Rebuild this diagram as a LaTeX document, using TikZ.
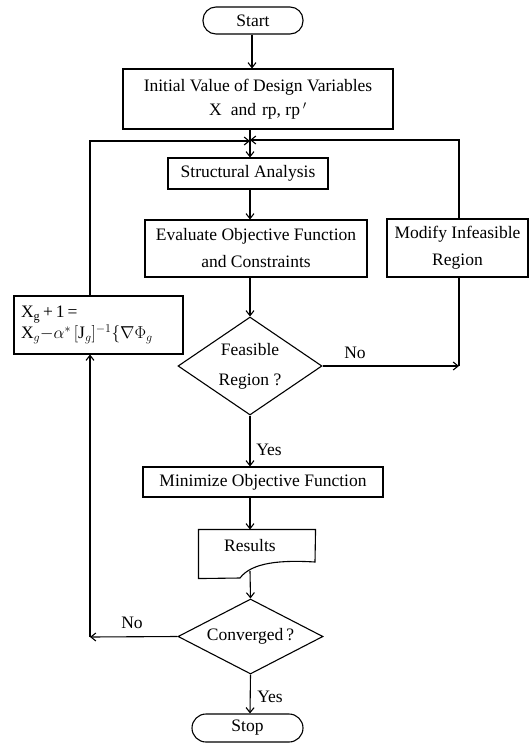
\documentclass[tikz,border=0pt]{standalone}
\usepackage{fontspec}
\setmainfont{Liberation Serif}
\usetikzlibrary{arrows.meta,shapes.geometric,calc}
\begin{document}
\begin{tikzpicture}[x=1pt,y=-1pt,
  every node/.style={font=\fontsize{17.5}{22}\selectfont},
  line width=1.1pt,
  box/.style={draw, line width=1.1pt, inner sep=0pt, align=center},
  dia/.style={draw, diamond, line width=1.1pt, inner sep=0pt},
  arr/.style={-{Straight Barb[length=5pt,width=8pt]}}
]
\useasboundingbox[fill=white] (0,0) rectangle (529,745);
\coordinate (sp) at (250,0);
\coordinate (sp2) at (252,0);

\node[box, minimum width=100pt, minimum height=27pt, rounded corners=13pt] (start) at (253,20.5) {Start};
\node[box, minimum width=270pt, minimum height=60pt, font=\fontsize{17.5}{24}\selectfont] (init) at (258,99) {Initial Value of Design Variables\\ X\hspace{9pt}and\hspace{6pt}rp, rp\,$'$};
\node[box, minimum width=160pt, minimum height=31pt] (sa) at (248,173.5) {Structural Analysis};
\node[box, minimum width=222pt, minimum height=57pt, font=\fontsize{17.5}{27}\selectfont] (eval) at (256,248.5) {Evaluate Objective Function\\ and Constraints};
\node[box, minimum width=141pt, minimum height=58pt, font=\fontsize{17.5}{27}\selectfont] (mod) at (457.5,248) {Modify Infeasible\\ Region};
\node[dia, minimum width=144pt, minimum height=98pt] (feas) at (250,366) {};
\node[align=center, font=\fontsize{17.5}{30}\selectfont] (feasl) at (feas.center) {Feasible\\ Region ?};
\node[box, inner xsep=7pt, text width=155pt, minimum height=58pt, align=left, font=\fontsize{17.5}{21}\selectfont] (xg) at (98.5,325) {X$_{\mathrm{g}}$\,+\,1\,=\\ X$_{g}{-}\alpha^{*}\,[\mathrm{J}_{g}]^{-1}\{\nabla\Phi_{g}$};
\node[box, minimum width=240pt, minimum height=30pt] (min) at (263,482) {Minimize Objective Function};
\node[minimum width=116pt, minimum height=48pt, inner sep=0pt] (res) at (257,554) {};
\draw (res.north west) -- (res.north east) -- (315,562) .. controls (282,560) and (252,562) .. (240,578) -- (res.south west) -- cycle;
\node (resl) at (250,546) {Results};
\node[dia, minimum width=145pt, minimum height=75pt] (conv) at (250.5,636.5) {};
\node (convl) at (conv.center) {Converged\,?};
\node[box, minimum width=111pt, minimum height=28pt, rounded corners=14pt] (stop) at (247.5,728) {Stop};

\coordinate (lj) at (90,141);
\coordinate (rj) at (459,140);
\coordinate (nj) at (459,366);
\coordinate (rb) at (250,571);
\coordinate (cj) at (90,637);

\draw[arr] (start.south -| sp2) -- (init.north -| sp2);
\draw[arr] (init.south -| sp) -- (sa.north -| sp);
\draw[arr] (xg.north -| lj) -- (lj) -- (lj -| sp);
\draw[arr] (mod.north -| rj) -- (rj) -- (rj -| sp);
\draw[arr] (sa.south -| sp) -- (eval.north -| sp);
\draw[arr] (eval.south -| sp) -- (feas.north);
\draw[arr] (feas.east) -- (nj);
\draw (mod.south -| nj) -- (nj);
\draw[arr] (feas.south) -- (min.north -| sp);
\draw[arr] (min.south -| sp) -- (res.north -| sp);
\draw[arr] (rb) -- (conv.north);
\draw[arr] (conv.west) -- (cj);
\draw[arr] (cj) -- (xg.south -| cj);
\draw[arr] (conv.south) -- (stop.north -| sp);

\node (no1) at (355,353) {No};
\node (yes1) at (269,450) {Yes};
\node (no2) at (132,623) {No};
\node (yes2) at (270,697) {Yes};
\end{tikzpicture}
\end{document}
